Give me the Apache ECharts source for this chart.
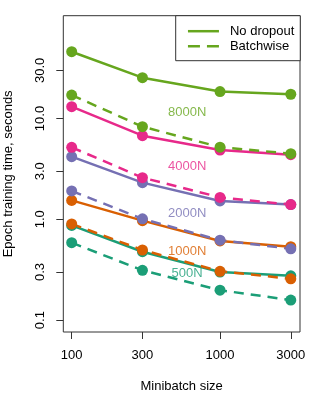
<!DOCTYPE html>
<html><head><meta charset="utf-8">
<script src="https://cdn.jsdelivr.net/npm/echarts@6/dist/echarts.min.js"></script>
<style>html,body{margin:0;padding:0;background:#fff}#c{width:316px;height:395px}</style>
</head><body><div id="c"></div>
<script>
const minibatch = [100, 300, 1000, 3000];
const xTickLabels = ['100', '300', '1000', '3000'];
const yTicks = [0.1, 0.3, 1, 3, 10, 30];
const yTickLabels = ['0.1', '0.3', '1.0', '3.0', '10.0', '30.0'];
const networks = ['500N', '1000N', '2000N', '4000N', '8000N'];
const colors = ['#1B9E77', '#D95F02', '#7570B3', '#E7298A', '#66A61E'];

const noDropout500 = [0.87, 0.477, 0.30, 0.275];
const batchwise500 = [0.586, 0.312, 0.198, 0.158];
const noDropout1000 = [1.54, 0.97, 0.61, 0.535];
const batchwise1000 = [0.90, 0.496, 0.305, 0.257];
const noDropout2000 = [4.18, 2.31, 1.52, 1.40];
const batchwise2000 = [1.91, 1.01, 0.62, 0.51];
const noDropout4000 = [13.1, 6.75, 4.87, 4.38];
const batchwise4000 = [5.18, 2.59, 1.65, 1.40];
const noDropout8000 = [46, 25.4, 18.5, 17.4];
const batchwise8000 = [17.1, 8.3, 5.2, 4.48];

const labelX = 600;
const labelY = [0.292, 0.479, 1.15, 3.34, 11.5];

const noDropout = [noDropout500, noDropout1000, noDropout2000, noDropout4000, noDropout8000];
const batchwise = [batchwise500, batchwise1000, batchwise2000, batchwise4000, batchwise8000];

const font = 'Liberation Sans, Arial, Helvetica, sans-serif';
const series = [];
networks.forEach((n, i) => {
  [['No dropout', noDropout[i], 'solid'], ['Batchwise', batchwise[i], [10, 7]]].forEach(([kind, vals, lt]) => {
    series.push({
      name: n + ' ' + kind,
      type: 'line',
      data: minibatch.map((x, j) => [x, vals[j]]),
      symbol: 'circle',
      symbolSize: 11,
      showAllSymbol: true,
      color: colors[i],
      itemStyle: { color: colors[i], borderWidth: 0 },
      lineStyle: { color: colors[i], width: 2.5, type: lt },
      emphasis: { disabled: true },
      animation: false
    });
  });
});
series.push({
  name: 'labels',
  type: 'scatter',
  symbolSize: 0.01,
  data: networks.map((n, i) => ({
    value: [labelX, labelY[i]], name: n,
    label: { color: colors[i] }
  })),
  label: { show: true, position: 'inside', formatter: p => p.name, fontSize: 13, fontFamily: font },
  emphasis: { disabled: true },
  animation: false,
  z: 5
});
series.push({ name: 'No dropout', type: 'line', data: [], symbol: 'none', color: '#66A61E', lineStyle: { color: '#66A61E', width: 2.5, type: 'solid' } });
series.push({ name: 'Batchwise', type: 'line', data: [], symbol: 'none', color: '#66A61E', lineStyle: { color: '#66A61E', width: 2.5, type: [12, 7] } });

const chart = echarts.init(document.getElementById('c'), null, { renderer: 'canvas' });
chart.setOption({
  animation: false,
  backgroundColor: '#fff',
  textStyle: { fontFamily: font },
  grid: { left: 63.3, right: 16, top: 15.7, bottom: 63, outerBoundsMode: 'none', containLabel: false, show: true, borderColor: '#333', borderWidth: 1, backgroundColor: 'transparent' },
  legend: {
    data: [
      { name: 'No dropout', itemStyle: { opacity: 0, color: 'rgba(0,0,0,0)', borderWidth: 0 }, lineStyle: { type: 'solid', width: 2.5, color: '#66A61E' } },
      { name: 'Batchwise', itemStyle: { opacity: 0, color: 'rgba(0,0,0,0)', borderWidth: 0 }, lineStyle: { type: [12, 7], width: 2.5, color: '#66A61E' } }
    ],
    orient: 'vertical',
    left: 175.7, top: 15.7,
    padding: [9, 6, 8, 11],
    itemWidth: 31, itemHeight: 14, itemGap: 2,
    borderColor: '#333', borderWidth: 1, backgroundColor: '#fff',
    textStyle: { fontSize: 13, color: '#000', fontFamily: font, padding: [0, 0, 0, 6] },
    selectedMode: false
  },
  xAxis: {
    type: 'log', logBase: 10, min: 87.8, max: 3461,
    name: 'Minibatch size', nameLocation: 'middle', nameGap: 48,
    nameTextStyle: { fontSize: 13, color: '#000', fontFamily: font },
    axisLine: { show: false },
    splitLine: { show: false },
    axisTick: { show: true, length: 7, lineStyle: { color: '#333' }, customValues: minibatch },
    axisLabel: { customValues: minibatch, fontSize: 13, color: '#000', margin: 17, fontFamily: font,
      formatter: v => { const k = minibatch.findIndex(t => Math.abs(t - v) / t < 1e-6); return k >= 0 ? xTickLabels[k] : ''; } }
  },
  yAxis: {
    type: 'log', logBase: 10, min: 0.0762, max: 104.7,
    name: 'Epoch training time, seconds', nameLocation: 'middle', nameGap: 48,
    nameTextStyle: { fontSize: 13, color: '#000', fontFamily: font },
    axisLine: { show: false },
    splitLine: { show: false },
    axisTick: { show: true, length: 7, lineStyle: { color: '#333' }, customValues: yTicks },
    axisLabel: { customValues: yTicks, fontSize: 13, color: '#000', margin: 16, rotate: 90, fontFamily: font,
      formatter: v => { const k = yTicks.findIndex(t => Math.abs(t - v) / t < 1e-6); return k >= 0 ? yTickLabels[k] : ''; } }
  },
  series: series
});
</script></body></html>
